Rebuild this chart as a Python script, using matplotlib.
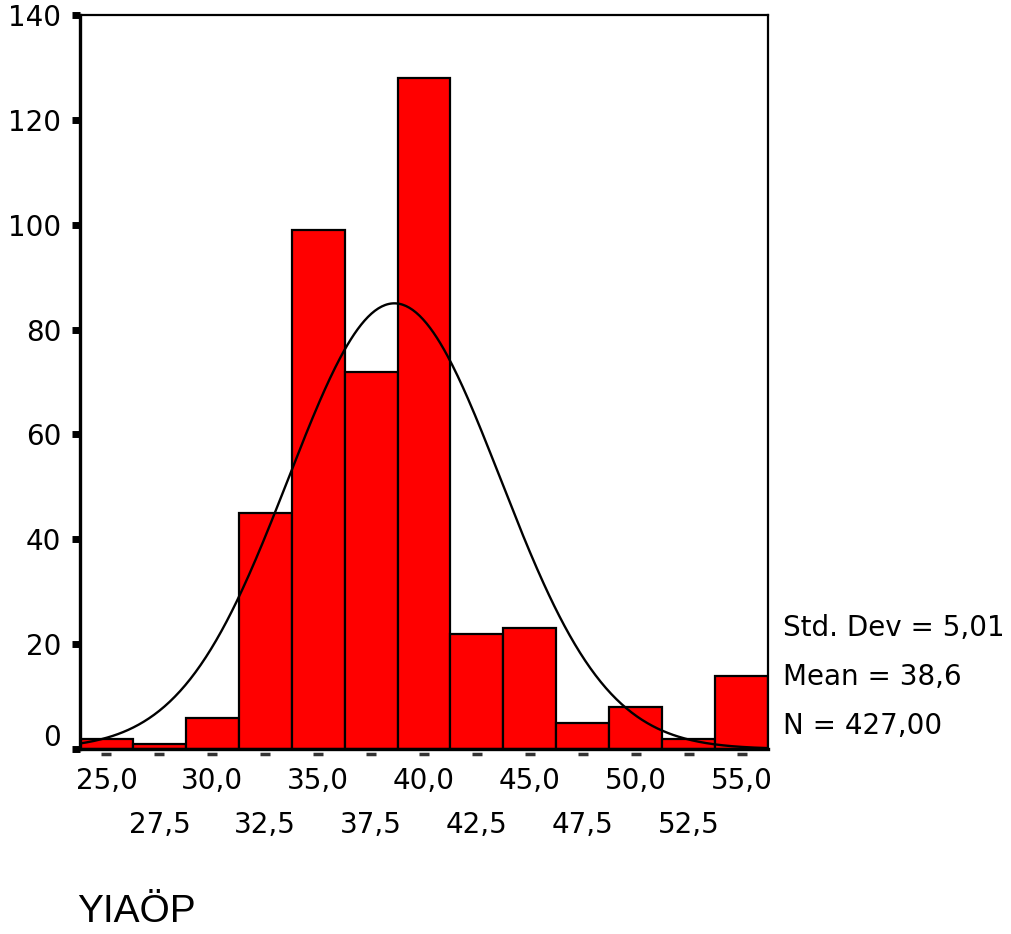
import numpy as np
import matplotlib.pyplot as plt
from matplotlib.transforms import ScaledTranslation, blended_transform_factory

plt.rcParams['font.family'] = ['DejaVu Sans']

# histogram data (bin centres, counts)
bin_centers = [25.0, 27.5, 30.0, 32.5, 35.0, 37.5, 40.0, 42.5, 45.0, 47.5, 50.0, 52.5, 55.0]
counts = [2, 1, 6, 45, 99, 72, 128, 22, 23, 5, 8, 2, 14]
bin_width = 2.5
std_dev = 5.01
mean = 38.6
n_total = 427
major_ticks = [25.0, 30.0, 35.0, 40.0, 45.0, 50.0, 55.0]
minor_ticks = [27.5, 32.5, 37.5, 42.5, 47.5, 52.5]
y_ticks = [0, 20, 40, 60, 80, 100, 120, 140]

fig = plt.figure(figsize=(10.12, 9.34), dpi=100)
ax = fig.add_axes([80/1012, 185/934, 688/1012, 734/934])

ax.bar(bin_centers, counts, width=bin_width, color='#ff0000',
       edgecolor='black', linewidth=1.6, zorder=2)

xmin = bin_centers[0] - bin_width/2
xmax = bin_centers[-1] + bin_width/2
xs = np.linspace(xmin, xmax, 400)
ys = n_total*bin_width/(std_dev*np.sqrt(2*np.pi))*np.exp(-0.5*((xs-mean)/std_dev)**2)
ax.plot(xs, ys, color='black', linewidth=1.7, zorder=3)

ax.set_xlim(xmin, xmax)
ax.set_ylim(0, 140)

for s in ['left', 'bottom']:
    ax.spines[s].set_linewidth(2.4)
for s in ['top', 'right']:
    ax.spines[s].set_linewidth(1.6)

ax.set_yticks(y_ticks)
ax.set_yticklabels([str(v) for v in y_ticks], fontsize=20)
ax.tick_params(axis='y', direction='out', length=5.5, width=5, pad=8, color='black')
lab0 = ax.get_yticklabels()[0]
lab0.set_transform(lab0.get_transform() + ScaledTranslation(0, 14/100, fig.dpi_scale_trans))

ax.set_xticks(major_ticks)
ax.set_xticklabels([f"{v:.1f}".replace('.', ',') for v in major_ticks], fontsize=20)
ax.set_xticks(minor_ticks, minor=True)
ax.set_xticklabels([f"{v:.1f}".replace('.', ',') for v in minor_ticks], minor=True, fontsize=20)
ax.tick_params(axis='x', which='major', length=0, pad=13)
ax.tick_params(axis='x', which='minor', length=0, pad=45)

# small dashes under the axis at each bin centre
trans = blended_transform_factory(ax.transData, ax.transAxes)
ax.plot(bin_centers, [-0.0065]*len(bin_centers), linestyle='none', marker='_',
        markersize=7, markeredgewidth=2.5, color='#333333', transform=trans, clip_on=False)

fig.text(783/1012, 1-628/934, "Std. Dev = " + f"{std_dev:.2f}".replace('.', ','),
         fontsize=20, va='center', ha='left')
fig.text(783/1012, 1-677/934, "Mean = " + f"{mean:.1f}".replace('.', ','),
         fontsize=20, va='center', ha='left')
fig.text(783/1012, 1-726/934, "N = " + f"{n_total:.2f}".replace('.', ','),
         fontsize=20, va='center', ha='left')

fig.text(77/1012, 1-912/934, "YIAÖP", fontsize=28, va='center', ha='left',
         family=['Liberation Sans', 'DejaVu Sans'])

fig.savefig('out.png', dpi=100)
